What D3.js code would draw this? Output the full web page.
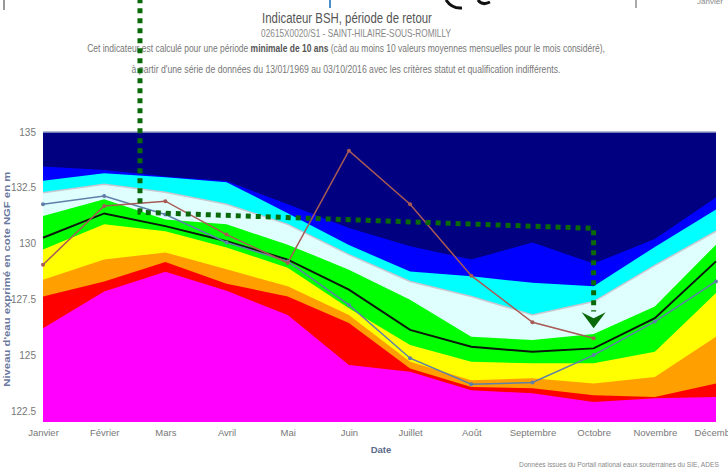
<!DOCTYPE html>
<html>
<head>
<meta charset="utf-8">
<script src="https://cdn.jsdelivr.net/npm/d3@7"></script>
<style>
	body { margin: 0; background: #fff; }
	svg { display: block; font-family: "Liberation Sans", "Open Sans", sans-serif; }
</style>
</head>
<body>
<div id="chart"></div>
<script>
const months = ["Janvier", "Février", "Mars", "Avril", "Mai", "Juin", "Juillet", "Août", "Septembre", "Octobre", "Novembre", "Décembre"]
const yTicks = [122.5, 125, 127.5, 130, 132.5, 135]

// limites hautes de chaque bande (m NGF)
const blueTop      = [133.45, 133.3, 133.0, 132.8, 131.76, 130.7, 129.88, 129.28, 130.05, 129.1, 130.2, 132.06]
const cyanTop      = [132.81, 133.15, 132.97, 132.75, 131.36, 129.93, 128.75, 128.53, 128.24, 128.08, 129.85, 131.53]
const lightCyanTop = [132.28, 132.66, 132.3, 131.76, 130.86, 129.5, 128.3, 127.63, 126.8, 127.4, 129.02, 130.55]
const greenTop     = [131.23, 131.98, 131.08, 130.86, 129.95, 128.83, 127.48, 125.82, 125.68, 125.95, 127.18, 129.95]
const yellowTop    = [129.73, 130.86, 130.55, 129.82, 128.92, 127.1, 125.45, 124.7, 124.63, 124.63, 125.15, 127.78]
const orangeTop    = [128.38, 129.28, 129.6, 128.85, 128.08, 126.8, 124.7, 123.87, 123.96, 123.73, 124.02, 125.82]
const redTop       = [127.63, 128.3, 129.17, 128.2, 127.63, 126.44, 124.4, 123.57, 123.51, 123.2, 123.12, 123.73]
const magentaTop   = [126.2, 127.85, 128.73, 127.88, 126.8, 124.55, 124.25, 123.42, 123.29, 122.9, 123.06, 123.12]

// courbes
const median    = [130.26, 131.35, 130.78, 130.1, 129.28, 127.93, 126.13, 125.37, 125.15, 125.3, 126.65, 129.2]
const annee2015 = [131.76, 132.13, 131.3, 130.05, 129.2, 127.25, 124.86, 123.69, 123.77, 125.0, 126.5, 128.3]
const annee2016 = [129.05, 131.68, 131.9, 130.4, 129.13, 134.16, 131.76, 128.56, 126.47, 125.75]

// fleche verte (indice de mois, niveau)
const arrowPoints = [[1.585, 141], [1.585, 131.4], [9, 130.68], [9, 126.95]]
const arrowTip = [9, 126.2]

const width = 728
const height = 473

const svg = d3.select("#chart").append("svg")
	.attr("width", width)
	.attr("height", height)

const x = d3.scalePoint().domain(months).range([43, 716])
const y = d3.scaleLinear().domain([122, 135]).range([422, 132])
const xi = d3.scaleLinear().domain([0, 11]).range([43, 716])

// squeeze a text horizontally to a target width
function fitWidth(text, cx, cy, target) {
	const w = text.node().getComputedTextLength()
	text.attr("x", 0).attr("y", 0)
		.attr("transform", `translate(${cx},${cy}) scale(${target / w},1)`)
}

// titres
const titles = svg.append("g").attr("text-anchor", "middle")
const t1 = titles.append("text")
	.attr("font-size", 15).attr("fill", "#555")
	.text("Indicateur BSH, période de retour")
fitWidth(t1, 347, 23, 170)
const t2 = titles.append("text")
	.attr("font-size", 10.5).attr("fill", "#888")
	.text("02615X0020/S1 - SAINT-HILAIRE-SOUS-ROMILLY")
fitWidth(t2, 356, 37, 190)
const l3 = titles.append("text")
	.attr("font-size", 10).attr("fill", "#777")
l3.append("tspan").text("Cet indicateur est calculé pour une période ")
l3.append("tspan").attr("font-weight", "bold").attr("fill", "#555").text("minimale de 10 ans")
l3.append("tspan").text(" (càd au moins 10 valeurs moyennes mensuelles pour le mois considéré),")
fitWidth(l3, 346, 52, 518)
const l4 = titles.append("text")
	.attr("font-size", 10).attr("fill", "#777")
	.text("à partir d'une série de données du 13/01/1969 au 03/10/2016 avec les critères statut et qualification indifférents.")
fitWidth(l4, 346, 73, 429)

// bandes
const bands = [
	{ top: null, color: "#000080" },
	{ top: blueTop, color: "#0000ff" },
	{ top: cyanTop, color: "#00ffff" },
	{ top: lightCyanTop, color: "#dfffff" },
	{ top: greenTop, color: "#00ff00" },
	{ top: yellowTop, color: "#ffff00" },
	{ top: orangeTop, color: "#ff9f00" },
	{ top: redTop, color: "#ff0000" },
	{ top: magentaTop, color: "#ff00ff" }
]

const area = d3.area()
	.x((d, i) => x(months[i]))
	.y0(y(122))
	.y1(d => y(d))

const bandGroup = svg.append("g")
bandGroup.selectAll("path")
	.data(bands)
	.join("path")
	.attr("fill", d => d.color)
	.attr("d", d => area(d.top || months.map(() => 135)))

// limite cyan / cyan clair
const line = d3.line().x((d, i) => x(months[i])).y(d => y(d))
bandGroup.append("path")
	.attr("d", line(lightCyanTop))
	.attr("fill", "none")
	.attr("stroke", "#c8c8d0")
	.attr("stroke-width", 1.5)

// bord haut
svg.append("line")
	.attr("x1", x(months[0])).attr("x2", x(months[11]))
	.attr("y1", y(135)).attr("y2", y(135))
	.attr("stroke", "#9aa6c8").attr("stroke-width", 1.5)

// courbes
const series = [
	{ values: median, color: "#0a1a0a", width: 2, dots: false },
	{ values: annee2015, color: "#5f7fa8", width: 1.5, dots: true },
	{ values: annee2016, color: "#a85a55", width: 1.5, dots: true }
]
series.forEach(s => {
	svg.append("path")
		.attr("d", line(s.values))
		.attr("fill", "none")
		.attr("stroke", s.color)
		.attr("stroke-width", s.width)
	if (s.dots) {
		svg.append("g").selectAll("circle")
			.data(s.values)
			.join("circle")
			.attr("cx", (d, i) => x(months[i]))
			.attr("cy", d => y(d))
			.attr("r", 2)
			.attr("fill", s.color)
	}
})

// axes
const yAxis = svg.append("g")
	.attr("transform", `translate(${x(months[0]) - 5},0)`)
	.call(d3.axisLeft(y).tickValues(yTicks).tickSize(0).tickPadding(2).tickFormat(d => d))
yAxis.select(".domain").remove()
yAxis.selectAll("text").attr("font-size", 10).attr("fill", "#777").attr("font-family", null)

const xAxis = svg.append("g")
	.attr("transform", `translate(0,${y(122) + 2})`)
	.call(d3.axisBottom(x).tickSize(0).tickPadding(5))
xAxis.select(".domain").remove()
xAxis.selectAll("text").attr("font-size", 9.5).attr("fill", "#777").attr("font-family", null)

svg.append("text")
	.attr("x", 381).attr("y", 453)
	.attr("text-anchor", "middle")
	.attr("font-size", 9.5).attr("font-weight", "bold").attr("fill", "#5a6a8a")
	.text("Date")

svg.append("text")
	.attr("transform", `translate(10,${y(128.4)}) rotate(-90)`)
	.attr("text-anchor", "middle")
	.attr("font-size", 9.5).attr("font-weight", "bold").attr("fill", "#6a78a0")
	.attr("textLength", 215).attr("lengthAdjust", "spacingAndGlyphs")
	.text("Niveau d'eau exprimé en cote NGF en m")

const foot = svg.append("text")
	.attr("text-anchor", "middle")
	.attr("font-size", 8).attr("fill", "#888")
	.text("Données issues du Portail national eaux souterraines du SIE, ADES")
fitWidth(foot, 619, 467, 200)

// restes en haut de l'image
svg.append("text").attr("x", 697).attr("y", 4).attr("font-size", 8).attr("fill", "#888").text("Janvier")
svg.append("line").attr("x1", 4).attr("x2", 4).attr("y1", 0).attr("y2", 10).attr("stroke", "#333")
svg.append("line").attr("x1", 330).attr("x2", 330).attr("y1", 0).attr("y2", 8).attr("stroke", "#4a90d0").attr("stroke-width", 2)
svg.append("line").attr("x1", 636).attr("x2", 636).attr("y1", 0).attr("y2", 8).attr("stroke", "#555")
svg.append("path").attr("d", "M446,0 Q452,9 462,8 M478,0 Q482,6 490,2").attr("fill", "none").attr("stroke", "#111").attr("stroke-width", 3)

// fleche en pointilles
const arrowLine = d3.line().x(d => xi(d[0])).y(d => y(d[1]))
svg.append("path")
	.attr("d", arrowLine(arrowPoints))
	.attr("fill", "none")
	.attr("stroke", "#0a6a0a")
	.attr("stroke-width", 5)
	.attr("stroke-dasharray", "5,5")
const tx = xi(arrowTip[0]), ty = y(arrowTip[1])
svg.append("path")
	.attr("d", `M${tx - 12},${ty - 16} L${tx},${ty - 10} L${tx + 12},${ty - 16} L${tx},${ty} Z`)
	.attr("fill", "#0a6a0a")
</script>
</body>
</html>
